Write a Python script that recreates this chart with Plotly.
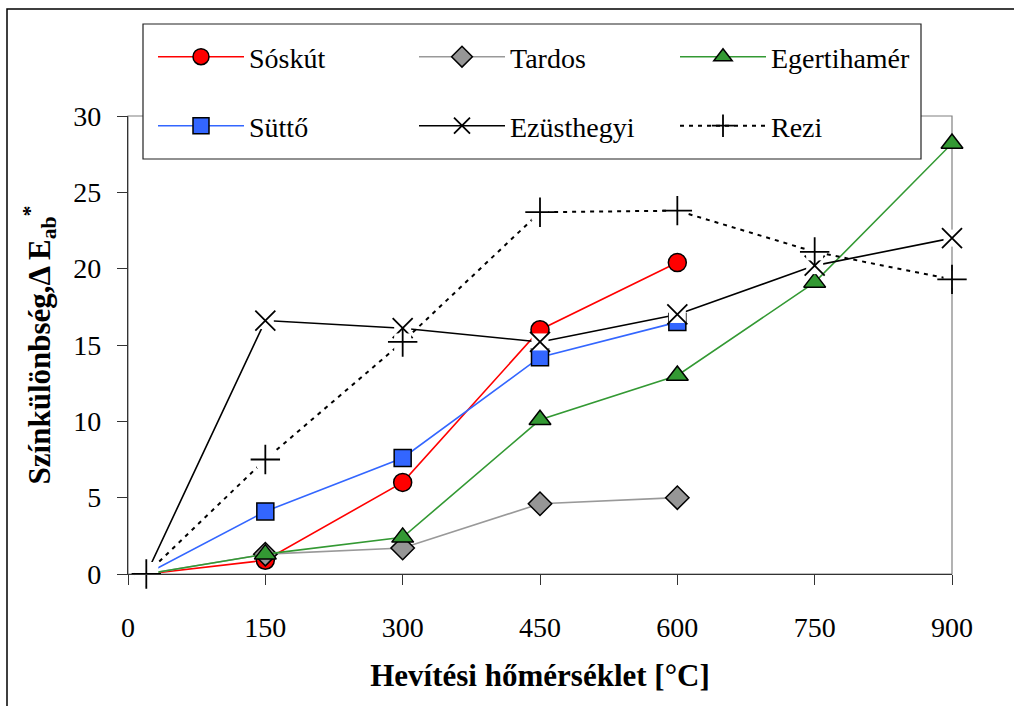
import plotly.graph_objects as go

# ---- data ----
soskut_x = [20, 150, 300, 450, 600]
soskut_y = [0, 0.9, 6.0, 16.0, 20.4]
tardos_x = [20, 150, 300, 450, 600]
tardos_y = [0, 1.3, 1.7, 4.6, 5.0]
eger_x = [20, 150, 300, 450, 600, 750, 900]
eger_y = [0, 1.3, 2.4, 10.1, 13.0, 19.1, 28.2]
sutto_x = [20, 150, 300, 450, 600]
sutto_y = [0, 4.1, 7.6, 14.2, 16.5]
ezust_x = [20, 150, 300, 450, 600, 750, 900]
ezust_y = [0, 16.6, 16.1, 15.2, 17.0, 20.2, 22.0]
rezi_x = [20, 150, 300, 450, 600, 750, 900]
rezi_y = [0, 7.5, 15.2, 23.7, 23.8, 21.1, 19.3]

x_ticks = [0, 150, 300, 450, 600, 750, 900]
y_ticks = [0, 5, 10, 15, 20, 25, 30]

FONT = "Liberation Serif, Times New Roman, serif"

series = [
    dict(name="Sóskút", x=soskut_x, y=soskut_y, color="#FF0000", symbol="circle",
         fill="#FF0000", size=18, legend="legend"),
    dict(name="Süttő", x=sutto_x, y=sutto_y, color="#3366FF", symbol="square",
         fill="#3366FF", size=17, legend="legend2"),
    dict(name="Tardos", x=tardos_x, y=tardos_y, color="#999999", symbol="diamond",
         fill="#969696", size=18, legend="legend"),
    dict(name="Egertihamér", x=eger_x, y=eger_y, color="#339933", symbol="triangle-up",
         fill="#339933", size=19, legend="legend"),
    dict(name="Ezüsthegyi", x=ezust_x, y=ezust_y, color="#000000", symbol="x-thin",
         fill="black", size=20, legend="legend2", thin=True, box=17),
    dict(name="Rezi", x=rezi_x, y=rezi_y, color="#000000", symbol="cross-thin",
         fill="black", size=21, legend="legend2", dash="4px,5px", lw=2, thin=True, box=17,
         box0=24),
]

legend_order = ["Sóskút", "Tardos", "Egertihamér", "Süttő", "Ezüsthegyi", "Rezi"]


def marker_of(s):
    if s.get("thin"):
        return dict(symbol=s["symbol"], size=s["size"], color="black", opacity=1,
                    line=dict(color="black", width=1.8))
    return dict(symbol=s["symbol"], size=s["size"], color=s["fill"], opacity=1,
                line=dict(color="black", width=1.5))


def line_of(s):
    return dict(color=s["color"], width=s.get("lw", 1.6), dash=s.get("dash", "solid"))


fig = go.Figure()
by_name = {s["name"]: s for s in series}

# legend entries (no data drawn)
for nm in legend_order:
    s = by_name[nm]
    fig.add_trace(go.Scatter(
        x=[None], y=[None], name=nm, mode="lines+markers",
        line=line_of(s), marker=marker_of(s), legend=s["legend"], hoverinfo="skip",
    ))

# data: line, white box behind thin markers (as in the original chart), marker
for s in series:
    fig.add_trace(go.Scatter(
        x=s["x"], y=s["y"], name=s["name"], mode="lines", line=line_of(s),
        showlegend=False, cliponaxis=False,
    ))
    if s.get("box"):
        sizes = [s["box"]] * len(s["x"])
        if s.get("box0"):
            sizes[0] = s["box0"]
        fig.add_trace(go.Scatter(
            x=s["x"], y=s["y"], mode="markers", showlegend=False, hoverinfo="skip",
            marker=dict(symbol="square", size=sizes, color="white", opacity=1,
                        line=dict(width=0)),
            cliponaxis=False,
        ))
    fig.add_trace(go.Scatter(
        x=s["x"], y=s["y"], name=s["name"], mode="markers", marker=marker_of(s),
        showlegend=False, cliponaxis=False,
    ))

L, R, T, B = 128, 62, 116, 132
W, H = 1014, 706
pw, ph = W - L - R, H - T - B


def px(xp):
    return (xp - L) / pw


def py(yp):
    return (H - B - yp) / ph


legend_common = dict(
    orientation="h", font=dict(family=FONT, size=28, color="black"),
    bgcolor="rgba(0,0,0,0)", borderwidth=0, itemwidth=86,
    entrywidth=160, xanchor="left", yanchor="middle", traceorder="normal",
    itemclick=False,
)

fig.update_layout(
    width=W, height=H,
    margin=dict(l=L, r=R, t=T, b=B, pad=0),
    paper_bgcolor="white", plot_bgcolor="white",
    font=dict(family=FONT, size=28, color="black"),
    showlegend=True,
    legend=dict(x=px(153), y=py(57), **legend_common),
    legend2=dict(x=px(153), y=py(126), **legend_common),
    xaxis=dict(
        range=[0, 900], tickvals=x_ticks, ticktext=[str(v) for v in x_ticks],
        showgrid=False, zeroline=False, showline=True, linecolor="#333333", linewidth=1.2,
        ticks="outside", ticklen=10, tickcolor="#333333", tickwidth=1.2,
        ticklabelstandoff=18,
        tickfont=dict(family=FONT, size=28, color="black"),
        title=dict(text="<b>Hevítési hőmérséklet [°C]</b>", standoff=22,
                   font=dict(family=FONT, size=31, color="black")),
    ),
    yaxis=dict(
        range=[0, 30], tickvals=y_ticks, ticktext=[str(v) for v in y_ticks],
        showgrid=False, zeroline=False, showline=True, linecolor="#333333", linewidth=1.2,
        ticks="outside", ticklen=10, tickcolor="#333333", tickwidth=1.2,
        ticklabelstandoff=10,
        tickfont=dict(family=FONT, size=28, color="black"),
        title=dict(text="<b>Színkülönbség,Δ E<sub>ab</sub><sup>*</sup></b>", standoff=13,
                   font=dict(family=FONT, size=31, color="black")),
    ),
    shapes=[
        # plot-area border (top/right grey)
        dict(type="rect", xref="paper", yref="paper", x0=0, x1=1, y0=0, y1=1,
             line=dict(color="#808080", width=1.2), layer="below"),
        # legend box
        dict(type="rect", xref="paper", yref="paper", x0=px(143), x1=px(921),
             y0=py(159), y1=py(24), fillcolor="white",
             line=dict(color="#222222", width=1.2), layer="above"),
        # outer chart frame
        dict(type="rect", xref="paper", yref="paper", x0=px(7), x1=px(1040),
             y0=py(730), y1=py(9), line=dict(color="black", width=1.5), layer="below"),
    ],
)

fig.write_html("out.html")
